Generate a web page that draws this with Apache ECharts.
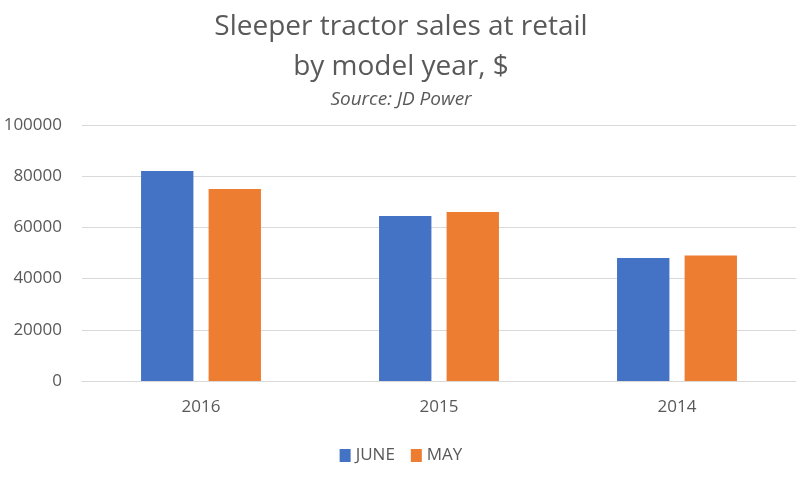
<!DOCTYPE html>
<html>
<head>
<meta charset="utf-8">
<script src="https://cdn.jsdelivr.net/npm/echarts@6/dist/echarts.min.js"></script>
<style>
html, body { margin: 0; padding: 0; background: #fff; }
#main { width: 802px; height: 483px; }
</style>
</head>
<body>
<div id="main"></div>
<script>
var years = ['2016', '2015', '2014'];
var june = [82000, 64500, 48000];
var may = [75000, 66000, 49000];
var yTicks = { min: 0, max: 100000, interval: 20000 };

var textColor = '#595959';
var font = 'Open Sans';

var chart = echarts.init(document.getElementById('main'));
var option = {
    backgroundColor: '#fff',
    color: ['#4472C4', '#ED7D31'],
    title: {
        text: 'Sleeper tractor sales at retail\nby model year, $',
        subtext: 'Source: JD Power',
        left: 'center',
        top: 2,
        itemGap: 3,
        textStyle: { fontFamily: font, fontSize: 28, fontWeight: 'normal', color: textColor, lineHeight: 40 },
        subtextStyle: { fontFamily: font, fontSize: 19, fontStyle: 'italic', color: textColor }
    },
    legend: {
        bottom: 14,
        left: 'center',
        itemWidth: 11,
        itemHeight: 13,
        itemGap: 16,
        icon: 'rect',
        textStyle: { fontFamily: font, fontSize: 17, color: textColor }
    },
    grid: { left: 82, right: 6, top: 125, bottom: 102 },
    xAxis: {
        type: 'category',
        data: years,
        axisLine: { lineStyle: { color: '#D9D9D9', width: 1 } },
        axisTick: { show: false },
        axisLabel: { fontFamily: font, fontSize: 17, color: textColor, margin: 18 }
    },
    yAxis: {
        type: 'value',
        min: yTicks.min,
        max: yTicks.max,
        interval: yTicks.interval,
        axisLine: { show: false },
        axisTick: { show: false },
        splitLine: { lineStyle: { color: '#D9D9D9', width: 1 } },
        axisLabel: { fontFamily: font, fontSize: 17, color: textColor, margin: 20, formatter: function (v) { return String(v); } }
    },
    series: [
        { name: 'JUNE', type: 'bar', data: june, barWidth: '22%', barGap: '29%' },
        { name: 'MAY', type: 'bar', data: may, barWidth: '22%', barGap: '29%' }
    ]
};
chart.setOption(option);
</script>
</body>
</html>
